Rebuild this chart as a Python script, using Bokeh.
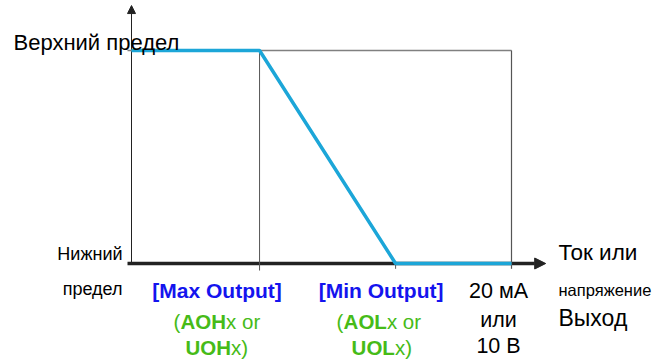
from bokeh.plotting import figure
from bokeh.models import Range1d, Arrow, NormalHead
from bokeh.core.properties import value
from bokeh.embed import file_html
from bokeh.resources import INLINE

# ---- data ----
curve_x = [0.0, 6.74, 13.9, 20.0]      # output signal position (mA scale)
curve_y = [1.0, 1.0, 0.0, 0.0]          # lower limit = 0, upper limit = 1
tick_max_output = 6.74
tick_min_output = 13.9
tick_full_scale = 20.0
upper_label = "Верхний предел"
lower_label = ["Нижний", "предел"]
max_label = "[Max Output]"
min_label = "[Min Output]"
full_labels = ["20 мА", "или", "10 В"]
axis_labels = ["Ток или", "напряжение", "Выход"]

FONT = value("Liberation Sans")
BLUE_LINE = "#1ca6d8"
BLUE_TXT = "#1414ee"
GREEN = "#46bb18"
GRAY = "#808080"

W, H = 657, 359
px = 19.0     # px per x unit
py = 213.0    # px per y unit
x0c, y0c = 131, 263
p = figure(width=W, height=H, output_backend="svg", toolbar_location=None,
           x_range=Range1d(-x0c / px, (W - x0c) / px),
           y_range=Range1d((y0c - H) / py, y0c / py),
           min_border=0, outline_line_color=None)
p.axis.visible = False
p.grid.visible = False

# grey frame lines
p.line([-0.21, 20], [1, 1], line_color=GRAY, line_width=1.5)
p.line([20, 20], [-0.025, 1], line_color="#555555", line_width=1.2)
p.line([tick_max_output, tick_max_output], [-0.033, 1], line_color="#555555", line_width=1)
p.line([tick_min_output, tick_min_output], [-0.025, 0], line_color="#555555", line_width=1)

# axes with arrows (beneath the curve)
p.add_layout(Arrow(x_start=-0.21, y_start=0, x_end=21.8, y_end=0, line_width=3.5,
                   line_color="#222222", level="underlay",
                   end=NormalHead(size=11, fill_color="#222222", line_color="#222222")))
p.add_layout(Arrow(x_start=0, y_start=0, x_end=0, y_end=1.211, line_width=1,
                   line_color="#222222", level="underlay",
                   end=NormalHead(size=8, fill_color="#222222", line_color="#222222")))

# characteristic curve
p.line(curve_x, curve_y, line_color=BLUE_LINE, line_width=3.5)

def txt(x, y, s, xo=0, yo=0, size="20.5px", color="black", align="center",
        style="normal"):
    p.text(x=[x], y=[y], text=[s], x_offset=xo, y_offset=yo, text_font=FONT,
           text_font_size=size, text_color=color, text_align=align,
           text_baseline="alphabetic", text_font_style=style)

txt(0, 1, upper_label, xo=-118, yo=-8, align="left", size="22px")
txt(0, 0, lower_label[0], xo=-9, yo=-10, align="right", size="18px")
txt(0, 0, lower_label[1], xo=-9, yo=25, align="right", size="18px")

# max output column
txt(tick_max_output, 0, max_label, xo=-42.5, yo=27, color=BLUE_TXT, style="bold", size="21px")
txt(tick_max_output, 0, "(", xo=-86, yo=58, color=GREEN, align="left")
txt(tick_max_output, 0, "AOH", xo=-79, yo=58, color=GREEN, align="left", style="bold")
txt(tick_max_output, 0, "x or", xo=-33.5, yo=58, color=GREEN, align="left")
txt(tick_max_output, 0, "UOH", xo=-74, yo=84, color=GREEN, align="left", style="bold")
txt(tick_max_output, 0, "x)", xo=-28.5, yo=84, color=GREEN, align="left")

# min output column
txt(tick_min_output, 0, min_label, xo=-14.5, yo=27, color=BLUE_TXT, style="bold", size="21px")
txt(tick_min_output, 0, "(", xo=-59, yo=58, color=GREEN, align="left")
txt(tick_min_output, 0, "AOL", xo=-52, yo=58, color=GREEN, align="left", style="bold")
txt(tick_min_output, 0, "x or", xo=-8.7, yo=58, color=GREEN, align="left")
txt(tick_min_output, 0, "UOL", xo=-44, yo=84, color=GREEN, align="left", style="bold")
txt(tick_min_output, 0, "x)", xo=-0.7, yo=84, color=GREEN, align="left")

# full scale column
for s, yo in zip(full_labels, [27, 56, 82]):
    txt(tick_full_scale, 0, s, xo=-13, yo=yo, size="21.5px")

# axis title
txt(tick_full_scale, 0, axis_labels[0], xo=47, yo=-11, align="left", size="22.5px")
txt(tick_full_scale, 0, axis_labels[1], xo=47, yo=26, align="left", size="16.5px")
txt(tick_full_scale, 0, axis_labels[2], xo=47, yo=54, align="left", size="23px")

open("out.html", "w").write(file_html(p, INLINE))
